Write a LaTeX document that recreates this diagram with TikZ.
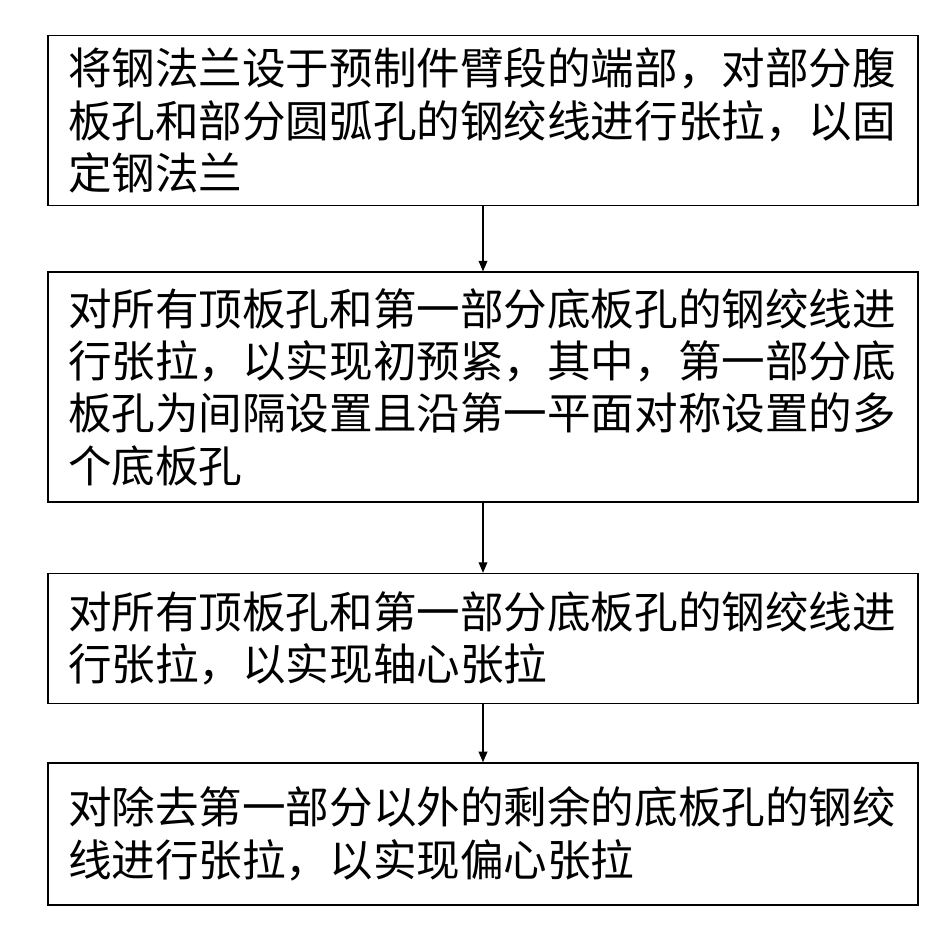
\documentclass[tikz,border=0pt]{standalone}
\usepackage{fontspec}
\setmainfont{Noto Sans CJK SC}
\usetikzlibrary{positioning,arrows.meta}
\tikzset{
  stepbox/.style={draw=black,line width=0.8pt,fill=white,minimum width=17.4cm,
    text width=16.6cm,align=left,font=\fontsize{24.8}{29.8}\selectfont,inner sep=0pt},
  flow/.style={-{Triangle[length=6pt,width=5pt]},line width=0.6pt}
}
\begin{document}
\begin{tikzpicture}
	\useasboundingbox (0,0) rectangle (18.78,-18.88);
	\node[stepbox,minimum height=3.4cm,anchor=north] (s1) at (9.66,-0.7)
		{将钢法兰设于预制件臂段的端部，对部分腹\\板孔和部分圆弧孔的钢绞线进行张拉，以固\\定钢法兰};
	\node[stepbox,minimum height=4.6cm,below=1.3cm of s1] (s2)
		{对所有顶板孔和第一部分底板孔的钢绞线进\\行张拉，以实现初预紧，其中，第一部分底\\板孔为间隔设置且沿第一平面对称设置的多\\个底板孔};
	\node[stepbox,minimum height=2.6cm,below=1.4cm of s2] (s3)
		{对所有顶板孔和第一部分底板孔的钢绞线进\\行张拉，以实现轴心张拉};
	\node[stepbox,minimum height=2.84cm,below=1.16cm of s3] (s4)
		{对除去第一部分以外的剩余的底板孔的钢绞\\线进行张拉，以实现偏心张拉};
	
	\draw[flow] (s1) -- (s2);
	\draw[flow] (s2) -- (s3);
	\draw[flow] (s3) -- (s4);
\end{tikzpicture}
\end{document}
